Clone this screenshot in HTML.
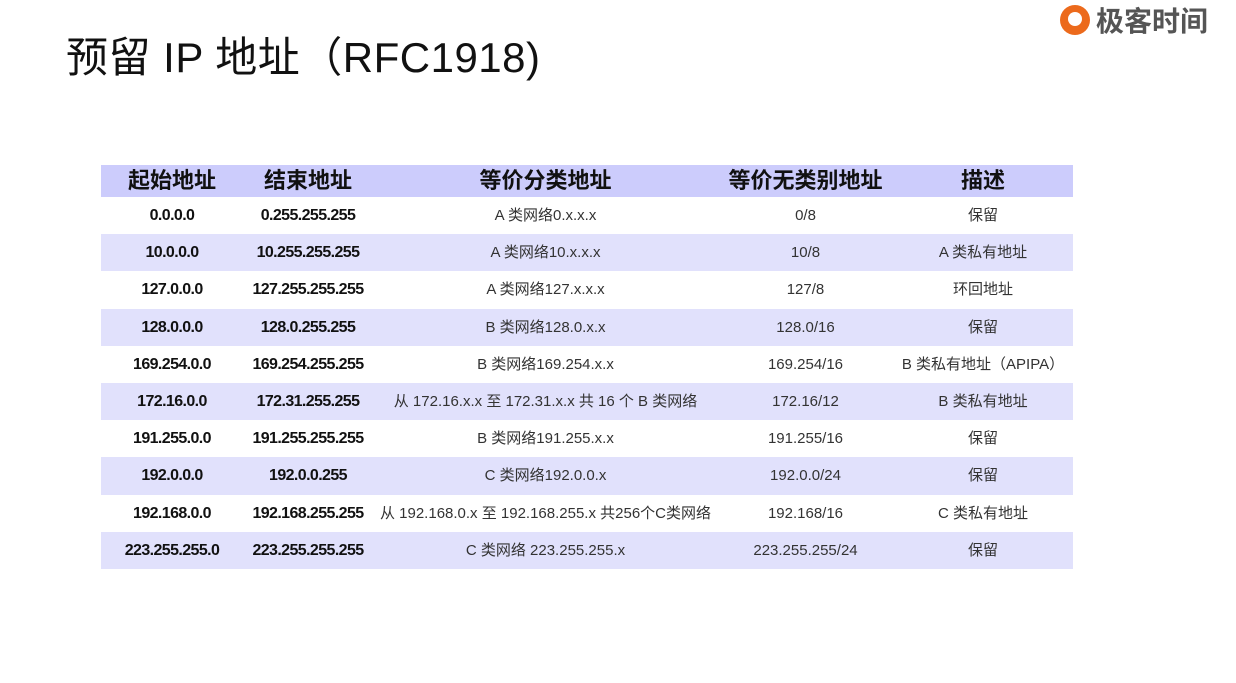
<!DOCTYPE html>
<html><head><meta charset="utf-8"><style>
body{margin:0;width:1236px;height:683px;background:#fff;position:relative;overflow:hidden;font-family:"Liberation Sans","Noto Sans CJK SC",sans-serif;}
h1{position:absolute;left:66px;top:32px;margin:0;font-weight:400;font-size:42px;line-height:52px;color:#111;letter-spacing:0.5px;}
.logo{position:absolute;left:1060px;top:2px;height:36px;display:flex;align-items:center;}
.logo .ic{width:30px;height:30px;border-radius:50%;background:#ec6a1c;position:relative;margin-right:6px;}
.logo .ic:after{content:"";position:absolute;left:8px;top:7px;width:14px;height:14px;border-radius:50%;background:#fff;}
.logo span{font-size:28px;font-weight:bold;color:#555;}
table{position:absolute;left:101px;top:165px;border-collapse:collapse;width:972px;table-layout:fixed;}
th{height:32px;line-height:32px;background:#ccccfc;font-size:22px;font-weight:bold;color:#111;padding:0;}
td{height:36.2px;line-height:20px;padding:1px 0 0 0;text-align:center;vertical-align:middle;font-size:15px;color:#333;white-space:nowrap;}
td.b{font-size:16px;color:#111;font-weight:bold;letter-spacing:-0.6px}
tbody tr:nth-child(even) td{background:#e1e1fc;}
tbody tr:nth-child(odd) td{background:#fff;}
</style></head><body>
<h1>预留 IP 地址（RFC1918)</h1>
<div class="logo"><div class="ic"></div><span>极客时间</span></div>
<table>
<colgroup><col style="width:142px"><col style="width:130px"><col style="width:345px"><col style="width:175px"><col style="width:180px"></colgroup>
<thead><tr><th>起始地址</th><th>结束地址</th><th>等价分类地址</th><th>等价无类别地址</th><th>描述</th></tr></thead>
<tbody>
<tr><td class="b">0.0.0.0</td><td class="b">0.255.255.255</td><td>A 类网络0.x.x.x</td><td>0/8</td><td>保留</td></tr>
<tr><td class="b">10.0.0.0</td><td class="b">10.255.255.255</td><td>A 类网络10.x.x.x</td><td>10/8</td><td>A 类私有地址</td></tr>
<tr><td class="b">127.0.0.0</td><td class="b">127.255.255.255</td><td>A 类网络127.x.x.x</td><td>127/8</td><td>环回地址</td></tr>
<tr><td class="b">128.0.0.0</td><td class="b">128.0.255.255</td><td>B 类网络128.0.x.x</td><td>128.0/16</td><td>保留</td></tr>
<tr><td class="b">169.254.0.0</td><td class="b">169.254.255.255</td><td>B 类网络169.254.x.x</td><td>169.254/16</td><td>B 类私有地址（APIPA）</td></tr>
<tr><td class="b">172.16.0.0</td><td class="b">172.31.255.255</td><td>从 172.16.x.x 至 172.31.x.x 共 16 个 B 类网络</td><td>172.16/12</td><td>B 类私有地址</td></tr>
<tr><td class="b">191.255.0.0</td><td class="b">191.255.255.255</td><td>B 类网络191.255.x.x</td><td>191.255/16</td><td>保留</td></tr>
<tr><td class="b">192.0.0.0</td><td class="b">192.0.0.255</td><td>C 类网络192.0.0.x</td><td>192.0.0/24</td><td>保留</td></tr>
<tr><td class="b">192.168.0.0</td><td class="b">192.168.255.255</td><td>从 192.168.0.x 至 192.168.255.x 共256个C类网络</td><td>192.168/16</td><td>C 类私有地址</td></tr>
<tr><td class="b">223.255.255.0</td><td class="b">223.255.255.255</td><td>C 类网络 223.255.255.x</td><td>223.255.255/24</td><td>保留</td></tr>
</tbody></table>
</body></html>
